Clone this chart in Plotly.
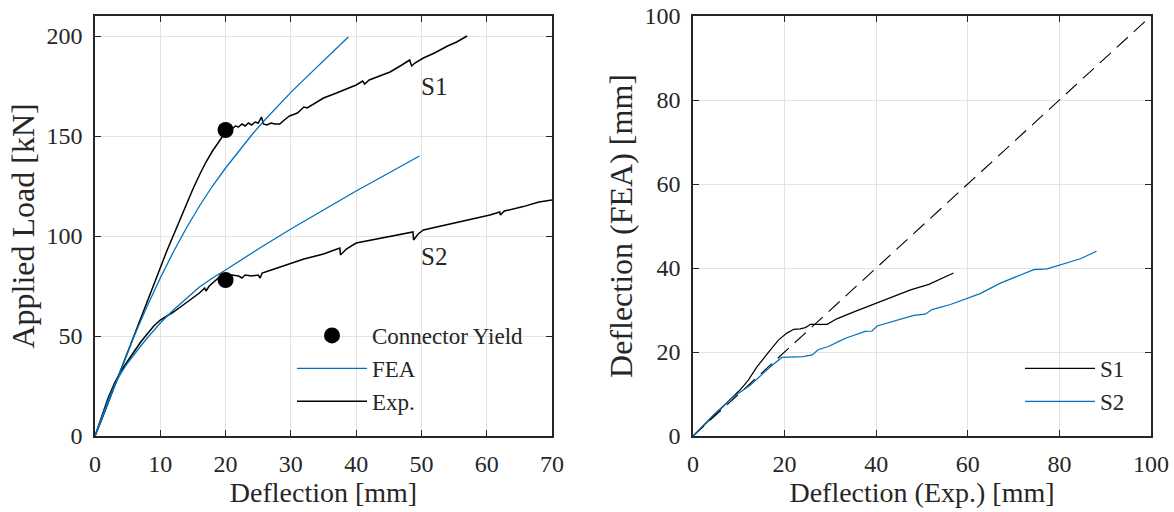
import plotly.graph_objects as go

# ---------------- data (left panel: load vs deflection) ----------------
s1_exp_x = [0, 1, 3, 5, 7, 9, 11, 13, 14, 15, 16, 17, 18, 19, 20, 20.5, 21, 21.5, 22, 22.5, 23, 23.5, 24, 24.5, 25,
            25.5, 25.8, 26.3, 27, 27.5, 28.3, 29, 29.8, 31, 32, 32.5, 34, 35, 37, 39, 40, 41, 41.3, 42, 44, 45.2,
            47, 48.2, 48.5, 49, 50.3, 52, 54, 55.4, 57]
s1_exp_y = [0, 8, 25, 42, 59, 76, 92.5, 108, 116, 123.5, 130.5, 137, 142.5, 147.5, 152, 154, 153.5, 155, 154.5,
            156, 155, 156.5, 155.5, 157, 156.5, 159.5, 156, 155.5, 156.5, 156, 156, 158, 160, 161.5, 164.5, 164,
            167, 169, 171.5, 174, 175.5, 177.5, 176, 178, 180.5, 182, 185.5, 188, 185, 186.5, 189, 191.5, 195,
            197, 200]

s2_exp_x = [0, 1, 2, 3, 4, 5, 6, 7, 8, 9, 10, 11, 12, 13.5, 14.5, 16, 16.8, 17, 17.5, 18.9, 20, 20.5, 21, 22, 22.5,
            23, 24, 25, 25.3, 25.6, 27, 29.8, 32, 35, 37.5, 37.6, 38.5, 40, 42.5, 45.2, 48.7, 48.8, 49.5, 50.3,
            53, 55.4, 58, 60.5, 62, 62.1, 62.7, 65.6, 68, 70]
s2_exp_y = [0, 10, 19, 26.5, 32.5, 37.5, 42.5, 47, 51, 55, 58, 60, 62, 65.5, 68, 71.5, 74, 72.5, 75, 79, 80, 79.5,
            80.5, 80, 79, 80.5, 80, 80.5, 79, 81.5, 83, 86, 88.5, 91, 94, 90.5, 93.5, 96.5, 98, 99.7, 102, 98,
            101, 103, 105, 107, 109, 110.5, 112, 110.5, 112.5, 114.7, 117, 118]

s1_fea_x = [0, 2, 4, 6, 8, 10, 12, 14, 16, 18, 20, 22, 24, 26, 28, 30, 32, 34, 36, 38.8]
s1_fea_y = [0, 17, 34, 50, 65, 79, 92, 104, 115, 125, 134, 142.5, 150.5, 158, 165, 171.8, 178.2, 184.5, 190.6,
            199.5]

s2_fea_x = [0, 1, 2, 3, 4, 5, 6, 7, 8, 9, 10, 12, 14, 16, 18, 20, 25, 30, 35, 40, 45, 49.7]
s2_fea_y = [0, 9.5, 18, 25.5, 31.5, 36.5, 41, 45, 49, 53, 56.5, 63, 69, 74.5, 79, 83, 93.5, 103.5, 113, 122.5,
            131.5, 140]

yield_x = [20, 20]
yield_y = [153, 78]

series_labels = ["S1", "S2"]
label_x = [52, 52]
label_y = [175, 90]

# ---------------- data (right panel: FEA vs Exp deflection) ----------------
r_s1_x = [0, 4.5, 8, 10.3, 12, 14, 16.9, 18.7, 20.5, 22, 23.4, 24.5, 25.3, 25.6, 29.3, 31.4, 35, 40.2, 44, 47.5,
          51.5, 54, 56.9]
r_s1_y = [0, 4.9, 8.5, 11, 13.2, 16.5, 20.5, 22.9, 24.5, 25.4, 25.5, 25.8, 26.3, 26.6, 26.6, 27.9, 29.5, 31.7,
          33.4, 34.8, 36.1, 37.3, 38.8]

r_s2_x = [0, 4.5, 8.9, 12.5, 16.9, 19.4, 24.1, 26, 27.4, 29.6, 32.2, 33.6, 37.6, 39.1, 40.2, 44.5, 48.2, 50.7,
          52.2, 56.2, 59.8, 62.7, 67.1, 70.7, 74.4, 77.3, 80.9, 84.6, 88.1]
r_s2_y = [0, 5.1, 9.4, 12.1, 16.5, 18.7, 18.9, 19.3, 20.6, 21.3, 22.7, 23.4, 24.9, 25, 26.2, 27.5, 28.7, 29,
          30.1, 31.3, 32.7, 33.9, 36.4, 37.9, 39.6, 39.8, 41, 42.2, 44]

ref_x = [0, 100]
ref_y = [0, 100]

BLUE = "#0072BD"
AX = "#262626"
FONT = "Liberation Serif"

fig = go.Figure()

# left panel
fig.add_trace(go.Scatter(x=s1_exp_x, y=s1_exp_y, mode="lines", line=dict(color="black", width=1.5),
                         name="Exp.", legend="legend", legendrank=3, showlegend=True, xaxis="x", yaxis="y"))
fig.add_trace(go.Scatter(x=s2_exp_x, y=s2_exp_y, mode="lines", line=dict(color="black", width=1.5),
                         name="Exp.", showlegend=False, xaxis="x", yaxis="y"))
fig.add_trace(go.Scatter(x=s1_fea_x, y=s1_fea_y, mode="lines", line=dict(color=BLUE, width=1.3),
                         name="FEA", legend="legend", legendrank=2, showlegend=True, xaxis="x", yaxis="y"))
fig.add_trace(go.Scatter(x=s2_fea_x, y=s2_fea_y, mode="lines", line=dict(color=BLUE, width=1.3),
                         name="FEA", showlegend=False, xaxis="x", yaxis="y"))
fig.add_trace(go.Scatter(x=yield_x, y=yield_y, mode="markers", marker=dict(color="black", size=16),
                         name="Connector Yield", legend="legend", legendrank=1, showlegend=True,
                         xaxis="x", yaxis="y"))

# right panel
fig.add_trace(go.Scatter(x=ref_x, y=ref_y, mode="lines", line=dict(color="black", width=1.1, dash="15px,8px"),
                         showlegend=False, xaxis="x2", yaxis="y2"))
fig.add_trace(go.Scatter(x=r_s1_x, y=r_s1_y, mode="lines", line=dict(color="black", width=1.2),
                         name="S1", legend="legend2", legendrank=1, xaxis="x2", yaxis="y2"))
fig.add_trace(go.Scatter(x=r_s2_x, y=r_s2_y, mode="lines", line=dict(color=BLUE, width=1.2),
                         name="S2", legend="legend2", legendrank=2, xaxis="x2", yaxis="y2"))

axis_common = dict(showline=True, linecolor=AX, linewidth=1.6, mirror="ticks", ticks="inside", ticklen=6,
                   tickwidth=1.3, tickcolor=AX, showgrid=True, gridcolor="#e3e3e3", gridwidth=1, zeroline=False,
                   automargin=False, tickfont=dict(family=FONT, size=24, color=AX))

L, R, T, B = 80, 23, 16, 76
W, H = 1174, 512
PW = W - L - R
PH = H - T - B

def px_x(p):
    return (p - L) / PW

def px_y(p):
    return (H - B - p) / PH

xtitle_font = dict(family=FONT, size=28, color=AX)
ytitle_font = dict(family=FONT, size=32, color=AX)

fig.update_layout(
    width=W, height=H,
    margin=dict(l=L, r=R, t=T, b=B, autoexpand=False),
    paper_bgcolor="white", plot_bgcolor="white",
    font=dict(family=FONT, color=AX),
    xaxis=dict(domain=[px_x(95), px_x(552)], range=[0, 70], dtick=10, anchor="y",
               title=dict(text="Deflection [mm]", font=xtitle_font, standoff=4),
               ticklabelstandoff=5, **axis_common),
    yaxis=dict(domain=[0, 1], range=[0, 210], tickvals=[0, 50, 100, 150, 200], anchor="x",
               title=dict(text="Applied Load [kN]", font=ytitle_font, standoff=2),
               ticklabelstandoff=6, **axis_common),
    xaxis2=dict(domain=[px_x(693), px_x(1151)], range=[0, 100], dtick=20, anchor="y2",
                title=dict(text="Deflection (Exp.) [mm]", font=xtitle_font, standoff=4),
                ticklabelstandoff=5, **axis_common),
    yaxis2=dict(domain=[0, 1], range=[0, 100], dtick=20, anchor="x2",
                title=dict(text="Deflection (FEA) [mm]", font=ytitle_font, standoff=2),
                ticklabelstandoff=6, **axis_common),
    legend=dict(x=px_x(292), y=px_y(314), xanchor="left", yanchor="top", bgcolor="rgba(0,0,0,0)",
                borderwidth=0, itemwidth=70, tracegroupgap=0,
                font=dict(family=FONT, size=23, color=AX)),
    legend2=dict(x=px_x(1020), y=px_y(347), xanchor="left", yanchor="top", bgcolor="rgba(0,0,0,0)",
                 borderwidth=0, itemwidth=70, tracegroupgap=0,
                 font=dict(family=FONT, size=23, color=AX)),
)

for t, xx, yy in zip(series_labels, label_x, label_y):
    fig.add_annotation(x=xx, y=yy, xref="x", yref="y", text=t, showarrow=False,
                       font=dict(family=FONT, size=25, color=AX))

fig.write_html("out.html")
